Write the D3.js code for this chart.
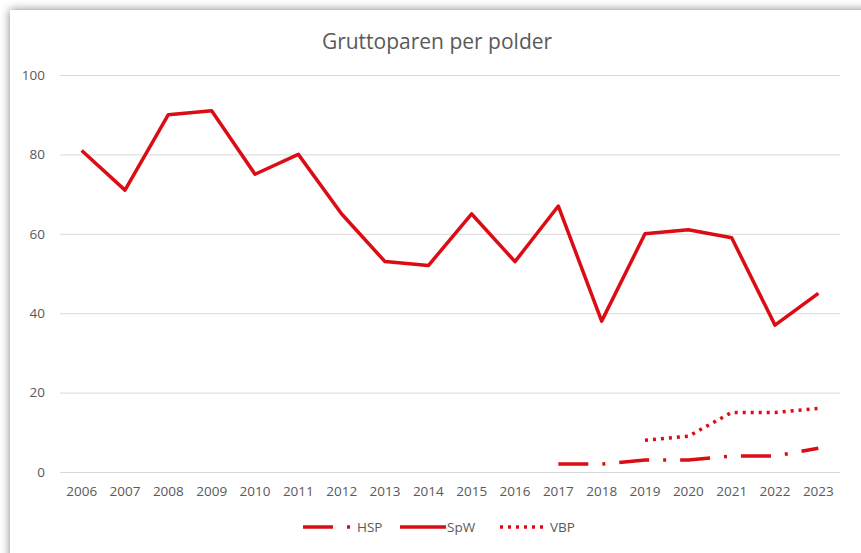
<!DOCTYPE html>
<html>
<head>
<meta charset="utf-8">
<script src="https://cdn.jsdelivr.net/npm/d3@7"></script>
<style>
	body { margin: 0; background: #fff; }
	svg { display: block; }
	.tick text { fill: #595959; }
</style>
</head>
<body>
<svg id="chart" width="861" height="553"></svg>
<script>
var years = ["2006","2007","2008","2009","2010","2011","2012","2013","2014","2015","2016","2017","2018","2019","2020","2021","2022","2023"];
// null = no count that year
var spw = [81, 71, 90, 91, 75, 80, 65, 53, 52, 65, 53, 67, 38, 60, 61, 59, 37, 45];
var hsp = [null, null, null, null, null, null, null, null, null, null, null, 2, 2, 3, 3, 4, 4, 6];
var vbp = [null, null, null, null, null, null, null, null, null, null, null, null, null, 8, 9, 15, 15, 16];
var yTicks = [0, 20, 40, 60, 80, 100];

var red = "#dc0c14";
var seriesList = [
	{ name: "HSP", values: hsp, dash: "30,14,3,14" },
	{ name: "SpW", values: spw, dash: null },
	{ name: "VBP", values: vbp, dash: "3,5" }
];

var svg = d3.select("#chart");
var margin = {top: 75, right: 21, bottom: 81, left: 60};
var width = 861 - margin.left - margin.right,
	height = 553 - margin.top - margin.bottom;

// card with a soft shadow on top and left
var defs = svg.append("defs");
var f = defs.append("filter").attr("id", "shadow")
	.attr("x", "-5%").attr("y", "-5%").attr("width", "110%").attr("height", "110%");
f.append("feDropShadow")
	.attr("dx", 0).attr("dy", 0)
	.attr("stdDeviation", 5)
	.attr("flood-color", "#000")
	.attr("flood-opacity", 0.5);

svg.append("rect")
	.attr("x", 10).attr("y", 10)
	.attr("width", 880).attr("height", 580)
	.attr("fill", "#fff")
	.attr("filter", "url(#shadow)");

var g = svg.append("g")
	.attr("transform", "translate(" + margin.left + "," + margin.top + ")");

var x = d3.scaleBand()
	.domain(years)
	.range([0, width]);

var y = d3.scaleLinear()
	.domain([0, 100])
	.range([height, 0]);

// gridlines + y labels
var yAxis = g.append("g")
	.call(d3.axisLeft(y).tickValues(yTicks).tickSize(-width).tickPadding(15));
yAxis.select(".domain").remove();
yAxis.selectAll(".tick line").attr("stroke", "#d9d9d9").attr("stroke-width", 1);
yAxis.selectAll(".tick text")
	.attr("font-family", "'Open Sans', sans-serif")
	.attr("font-size", 13.5);

var xAxis = g.append("g")
	.attr("transform", "translate(0," + height + ")")
	.call(d3.axisBottom(x).tickSize(0).tickPadding(14));
xAxis.select(".domain").remove();
xAxis.selectAll(".tick text")
	.attr("font-family", "'Open Sans', sans-serif")
	.attr("font-size", 13.5);

var line = d3.line()
	.defined(function(d) { return d.value !== null; })
	.x(function(d) { return x(d.label) + x.bandwidth() / 2; })
	.y(function(d) { return y(d.value); });

seriesList.forEach(function(s) {
	var pts = years.map(function(yr, i) { return { label: yr, value: s.values[i] }; });
	g.append("path")
		.attr("d", line(pts))
		.attr("fill", "none")
		.attr("stroke", red)
		.attr("stroke-width", 3.5)
		.attr("stroke-linejoin", "round")
		.attr("stroke-dasharray", s.dash);
});

// title
svg.append("text")
	.attr("x", 437)
	.attr("y", 49)
	.attr("text-anchor", "middle")
	.attr("font-family", "'Open Sans', sans-serif")
	.attr("font-size", 21)
	.attr("fill", "#595959")
	.text("Gruttoparen per polder");

// legend
var legendItems = [
	{ name: "HSP", dash: "30,14,3,14", x: 303, w: 50 },
	{ name: "SpW", dash: null, x: 400, w: 46 },
	{ name: "VBP", dash: "3,5", x: 500, w: 46 }
];
var legend = svg.append("g");
legendItems.forEach(function(d) {
	legend.append("line")
		.attr("x1", d.x).attr("x2", d.x + d.w)
		.attr("y1", 527).attr("y2", 527)
		.attr("stroke", red)
		.attr("stroke-width", 3.5)
		.attr("stroke-dasharray", d.dash);
	legend.append("text")
		.attr("x", d.x + d.w + (d.name == "SpW" ? 1 : 4))
		.attr("y", 532)
		.attr("font-family", "'Open Sans', sans-serif")
		.attr("font-size", 13.5)
		.attr("fill", "#595959")
		.text(d.name);
});
</script>
</body>
</html>
